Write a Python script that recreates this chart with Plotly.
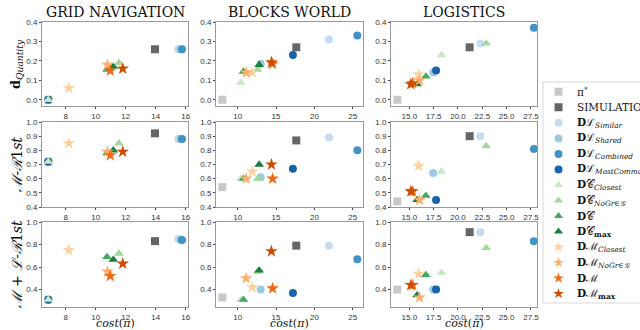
import plotly.graph_objects as go

methods = ["π<sup>*</sup>", "SIMULATION",
           "<b>D</b>ℒ<sub><i>Similar</i></sub>", "<b>D</b>ℒ<sub><i>Shared</i></sub>",
           "<b>D</b>ℒ<sub><i>Combined</i></sub>", "<b>D</b>ℒ<sub><i>MostCommon</i></sub>",
           "<b>D</b>𝒞<sub><i>Closest</i></sub>", "<b>D</b>𝒞<sub><i>NoGr∈𝒢</i></sub>",
           "<b>D</b>𝒞", "<b>D</b>𝒞<sub><b>max</b></sub>",
           "<b>D</b>ℳ<sub><i>Closest</i></sub>", "<b>D</b>ℳ<sub><i>NoGr∈𝒢</i></sub>",
           "<b>D</b>ℳ", "<b>D</b>ℳ<sub><b>max</b></sub>"]
symbols = ["square", "square", "circle", "circle", "circle", "circle",
           "triangle-up", "triangle-up", "triangle-up", "triangle-up",
           "star", "star", "star", "star"]
colors = ["#c8c8c8", "#666666", "#c6dbef", "#9ecae1", "#4292c6", "#1764ab",
          "#c7e9c0", "#a1d99b", "#41ab5d", "#18803f",
          "#fdd0a2", "#fdae6b", "#f16913", "#cc4c02"]
sizes = {"square": 8, "circle": 8, "triangle-up": 8.5, "star": 9.5}

# GRID NAVIGATION
grid_cost = [6.84, 13.95, 15.5, 15.65, 15.75, 6.84, 6.84, 11.55, 10.75, 11.17, 8.2, 10.78, 10.97, 11.8]
grid_dq   = [0.0, 0.26, 0.26, 0.26, 0.26, 0.0, 0.0, 0.19, 0.155, 0.17, 0.06, 0.18, 0.15, 0.16]
grid_mr   = [0.72, 0.92, 0.88, 0.88, 0.88, 0.72, 0.72, 0.85, 0.78, 0.80, 0.85, 0.79, 0.765, 0.79]
grid_mlr  = [0.31, 0.83, 0.85, 0.845, 0.84, 0.31, 0.31, 0.72, 0.69, 0.665, 0.75, 0.56, 0.52, 0.63]

# BLOCKS WORLD
blocks_cost = [8.0, 17.64, 21.9, 13.0, 25.6, 17.2, 10.4, 12.6, 10.75, 12.8, 11.9, 11.1, 14.55, 14.4]
blocks_dq   = [0.0, 0.27, 0.31, 0.185, 0.33, 0.23, 0.088, 0.155, 0.145, 0.18, 0.14, 0.14, 0.185, 0.193]
blocks_mr   = [0.54, 0.87, 0.89, 0.61, 0.80, 0.67, 0.60, 0.60, 0.60, 0.70, 0.65, 0.60, 0.60, 0.70]
blocks_mlr  = [0.33, 0.79, 0.79, 0.40, 0.67, 0.37, 0.31, 0.56, 0.31, 0.57, 0.42, 0.50, 0.41, 0.74]

# LOGISTICS
log_cost = [13.77, 21.2, 22.3, 17.45, 27.8, 17.75, 18.3, 22.9, 16.7, 15.8, 15.95, 16.05, 15.35, 15.15]
log_dq   = [0.0, 0.27, 0.29, 0.14, 0.37, 0.15, 0.23, 0.29, 0.12, 0.08, 0.13, 0.10, 0.086, 0.08]
log_mr   = [0.44, 0.90, 0.90, 0.64, 0.81, 0.45, 0.65, 0.83, 0.48, 0.45, 0.69, 0.45, 0.51, 0.51]
log_mlr  = [0.40, 0.91, 0.91, 0.40, 0.83, 0.40, 0.55, 0.77, 0.53, 0.35, 0.54, 0.33, 0.44, 0.44]

col_titles = ["GRID NAVIGATION", "BLOCKS WORLD", "LOGISTICS"]
costs = [grid_cost, blocks_cost, log_cost]
metrics = [[grid_dq, grid_mr, grid_mlr],
           [blocks_dq, blocks_mr, blocks_mlr],
           [log_dq, log_mr, log_mlr]]
x_ranges = [[6.42, 16.15], [7.17, 26.34], [13.12, 28.12]]
x_dticks = [2, 5, 2.5]
x_formats = ["d", "d", ".1f"]
y_ranges = [[-0.032, 0.4], [0.4, 1.0], [0.245, 1.0]]
y_dticks = [0.1, 0.1, 0.2]

W, H = 640, 330
def px(x):
    return x / W
def py(y):
    return 1 - y / H

col_dom = [[px(42), px(188)], [px(216), px(363)], [px(391), px(537)]]
row_dom = [[py(106), py(22)], [py(207), py(122)], [py(307), py(222)]]

fig = go.Figure()
layout = {}
for r in range(3):
    for c in range(3):
        idx = r*3 + c + 1
        xa = "x" if idx == 1 else f"x{idx}"
        ya = "y" if idx == 1 else f"y{idx}"
        for k in range(len(methods)):
            fig.add_trace(go.Scatter(
                x=[costs[c][k]], y=[metrics[c][r][k]], xaxis=xa, yaxis=ya,
                mode="markers", name=methods[k], showlegend=False,
                marker=dict(symbol=symbols[k], color=colors[k],
                            size=sizes[symbols[k]], line=dict(width=0))))
        axstyle = dict(showline=True, mirror=True, linecolor="#999", linewidth=1,
                       showgrid=False, zeroline=False, ticks="outside", ticklen=2,
                       tickcolor="#444",
                       tickfont=dict(family="Liberation Sans", size=8, color="#333"))
        layout["xaxis" if idx == 1 else f"xaxis{idx}"] = dict(
            domain=col_dom[c], range=x_ranges[c], dtick=x_dticks[c], tick0=0,
            tickformat=x_formats[c], anchor=ya, **axstyle)
        layout["yaxis" if idx == 1 else f"yaxis{idx}"] = dict(
            domain=row_dom[r], range=y_ranges[r], dtick=y_dticks[r], tick0=0,
            tickformat=".1f", anchor=xa, **axstyle)

# custom legend panel (entries placed by index of the method list)
n = len(methods)
leg_idx = list(range(n))
for k in range(n):
    fig.add_trace(go.Scatter(
        x=[0.16], y=[leg_idx[k]], xaxis="x10", yaxis="y10", mode="markers",
        showlegend=False, hoverinfo="skip",
        marker=dict(symbol=symbols[k], color=colors[k], size=8, line=dict(width=0))))
layout["xaxis10"] = dict(domain=[px(543), 1.0], range=[0, 1], visible=False, fixedrange=True)
layout["yaxis10"] = dict(domain=[py(301.5), py(84)], range=[n-0.5, -0.5], visible=False,
                         fixedrange=True, anchor="x10")
fig.update_layout(**layout)

ann = []
for k in range(n):
    ann.append(dict(text=methods[k], x=0.33, y=leg_idx[k], xref="x10", yref="y10",
                    xanchor="left", yanchor="middle", showarrow=False,
                    font=dict(family="DejaVu Serif", size=10.5, color="#111")))
for c in range(3):
    ann.append(dict(text=col_titles[c], x=(col_dom[c][0]+col_dom[c][1])/2, y=py(12),
                    xref="paper", yref="paper", showarrow=False,
                    xanchor="center", yanchor="middle",
                    font=dict(family="DejaVu Serif", size=14, color="#111")))
    ann.append(dict(text="<i>cost</i>(<i>π</i>)", x=(col_dom[c][0]+col_dom[c][1])/2, y=py(323.5),
                    xref="paper", yref="paper", showarrow=False,
                    xanchor="center", yanchor="middle",
                    font=dict(family="DejaVu Serif", size=11, color="#111")))
ylabels = ["<b>d</b><sub><i>Quantity</i></sub>", "<i>ℳ</i>-<i>ℛ</i>1<i>st</i>",
           "<i>ℳ</i> + <i>ℒ</i>-<i>ℛ</i>1<i>st</i>"]
ysizes = [13, 14, 14]
for r in range(3):
    ann.append(dict(text=ylabels[r], x=px(16), y=(row_dom[r][0]+row_dom[r][1])/2,
                    xref="paper", yref="paper", showarrow=False, textangle=-90,
                    xanchor="center", yanchor="middle",
                    font=dict(family="DejaVu Serif", size=ysizes[r], color="#111")))

shapes = [dict(type="rect", xref="paper", yref="paper", x0=px(543), x1=1.05,
               y0=py(303), y1=py(82), line=dict(color="#d8d8d8", width=1),
               fillcolor="rgba(0,0,0,0)", layer="below")]

fig.update_layout(
    annotations=ann, shapes=shapes,
    width=W, height=H,
    margin=dict(l=0, r=0, t=0, b=0, autoexpand=False),
    paper_bgcolor="white", plot_bgcolor="white",
    showlegend=False,
)

fig.write_html("out.html", config={"displayModeBar": False},
               post_script="document.body.style.margin='0';document.body.style.overflow='hidden';")
